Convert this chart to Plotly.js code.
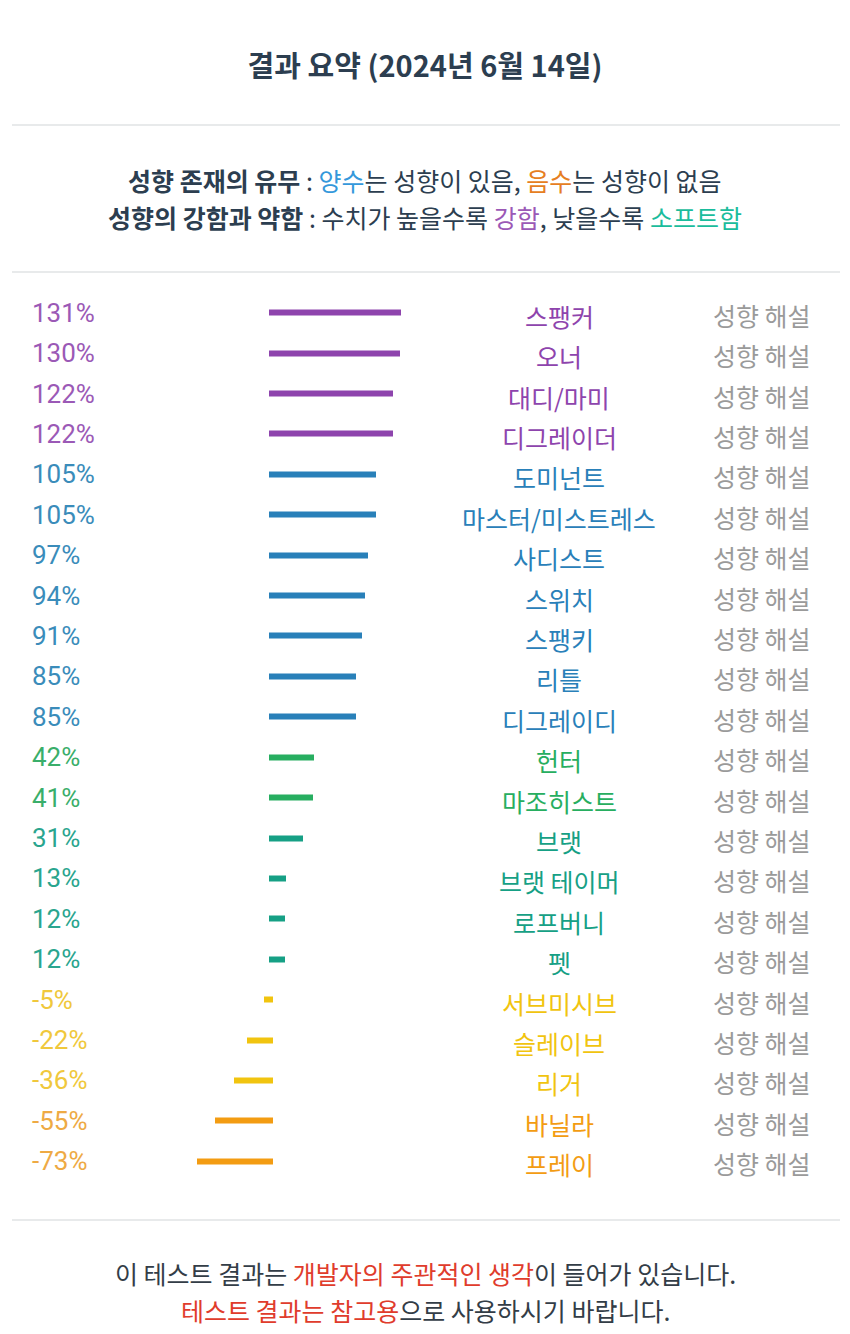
<!DOCTYPE html>
<html>
<head>
<meta charset="utf-8">
<script src="https://cdn.plot.ly/plotly-3.0.1.min.js"></script>
<style>
  html, body { margin: 0; padding: 0; background: #ffffff; }
  #chart { width: 850px; height: 1334px; }
</style>
</head>
<body>
<div id="chart"></div>
<script>
// ---- data ----
const categories = ['스팽커', '오너', '대디/마미', '디그레이더', '도미넌트', '마스터/미스트레스',
  '사디스트', '스위치', '스팽키', '리틀', '디그레이디', '헌터', '마조히스트', '브랫',
  '브랫 테이머', '로프버니', '펫', '서브미시브', '슬레이브', '리거', '바닐라', '프레이'];
const values = [131, 130, 122, 122, 105, 105, 97, 94, 91, 85, 85, 42, 41, 31, 13, 12, 12, -5, -22, -36, -55, -73];
const tiers = ['strong', 'strong', 'strong', 'strong', 'high', 'high', 'high', 'high', 'high', 'high', 'high',
  'mid', 'mid', 'low', 'low', 'low', 'low', 'weakneg', 'weakneg', 'weakneg', 'strongneg', 'strongneg'];
const linkLabel = '성향 해설';
const titleText = '결과 요약 (2024년 6월 14일)';

// ---- styles ----
const tierColor = {
  strong: '#8e44ad', high: '#2980b9', mid: '#27ae60', low: '#16a085',
  weakneg: '#f1c40f', strongneg: '#f39c12'
};
const labelColor = {
  strong: '#9b59b6', high: '#3a8cba', mid: '#3aae6a', low: '#2aa58e',
  weakneg: '#f0c83c', strongneg: '#eeaa44'
};
const H = 1334, W = 850;
const py = px => 1 - px / H;
const pxx = px => px / W;
const KR = '"Noto Sans CJK KR", "Noto Sans", sans-serif';
const dark = '#2c3e50';

const colors = tiers.map(t => tierColor[t]);

const trace = {
  type: 'bar',
  orientation: 'h',
  x: values,
  y: categories,
  width: 0.05,
  marker: { color: colors, line: { color: colors, width: 4 } },
  hoverinfo: 'skip',
  showlegend: false
};

const annotations = [];
categories.forEach((c, i) => {
  const t = tiers[i];
  annotations.push({
    xref: 'paper', yref: 'y', x: pxx(30), y: c, xanchor: 'left', yanchor: 'middle',
    text: values[i] + '%', showarrow: false,
    font: { family: 'Roboto, "Noto Sans", sans-serif', size: 26, color: labelColor[t] }
  });
  annotations.push({
    xref: 'paper', yref: 'y', x: pxx(559), y: c, xanchor: 'center', yanchor: 'middle', yshift: -3,
    text: c, showarrow: false,
    font: { family: KR, size: 25, color: tierColor[t] }
  });
  annotations.push({
    xref: 'paper', yref: 'y', x: pxx(762), y: c, xanchor: 'center', yanchor: 'middle', yshift: -2,
    text: linkLabel, showarrow: false,
    font: { family: KR, size: 25, color: '#9a9a9a' }
  });
});

annotations.push({
  xref: 'paper', yref: 'paper', x: 0.5, y: py(180), xanchor: 'center', yanchor: 'middle',
  showarrow: false, font: { family: KR, size: 25, color: dark },
  text: '<b>성향 존재의 유무</b> : <span style="color:#3498db">양수</span>는 성향이 있음, <span style="color:#e67e22">음수</span>는 성향이 없음'
});
annotations.push({
  xref: 'paper', yref: 'paper', x: 0.5, y: py(217), xanchor: 'center', yanchor: 'middle',
  showarrow: false, font: { family: KR, size: 25, color: dark },
  text: '<b>성향의 강함과 약함</b> : 수치가 높을수록 <span style="color:#9b59b6">강함</span>, 낮을수록 <span style="color:#1abc9c">소프트함</span>'
});
annotations.push({
  xref: 'paper', yref: 'paper', x: 0.5, y: py(1273), xanchor: 'center', yanchor: 'middle',
  showarrow: false, font: { family: KR, size: 25, color: '#333d47' },
  text: '이 테스트 결과는 <span style="color:#e03c2c">개발자의 주관적인 생각</span>이 들어가 있습니다.'
});
annotations.push({
  xref: 'paper', yref: 'paper', x: 0.5, y: py(1310), xanchor: 'center', yanchor: 'middle',
  showarrow: false, font: { family: KR, size: 25, color: '#333d47' },
  text: '<span style="color:#e03c2c">테스트 결과는 참고용</span>으로 사용하시기 바랍니다.'
});

const sepLine = y => ({
  type: 'line', xref: 'paper', yref: 'paper', x0: pxx(12), x1: pxx(840), y0: py(y), y1: py(y),
  line: { color: '#e8eaeb', width: 2 }
});

const zero = 271, k = 0.98;
const layout = {
  width: W, height: H,
  margin: { l: 0, r: 0, t: 0, b: 0 },
  paper_bgcolor: '#ffffff', plot_bgcolor: '#ffffff',
  title: {
    text: '<b>' + titleText + '</b>', x: 0.5, xanchor: 'center', y: py(67), yanchor: 'middle',
    font: { family: KR, size: 29, color: dark }
  },
  xaxis: {
    range: [-zero / k, (W - zero) / k], domain: [0, 1],
    showgrid: false, zeroline: false, showticklabels: false, showline: false, fixedrange: true
  },
  yaxis: {
    type: 'category', range: [categories.length - 0.5, -0.5],
    domain: [py(1181.5), py(292.5)],
    showgrid: false, zeroline: false, showticklabels: false, showline: false, fixedrange: true
  },
  bargap: 0,
  annotations: annotations,
  shapes: [sepLine(125), sepLine(272), sepLine(1220)]
};

Plotly.newPlot('chart', [trace], layout, { displayModeBar: false, responsive: false });
</script>
</body>
</html>
